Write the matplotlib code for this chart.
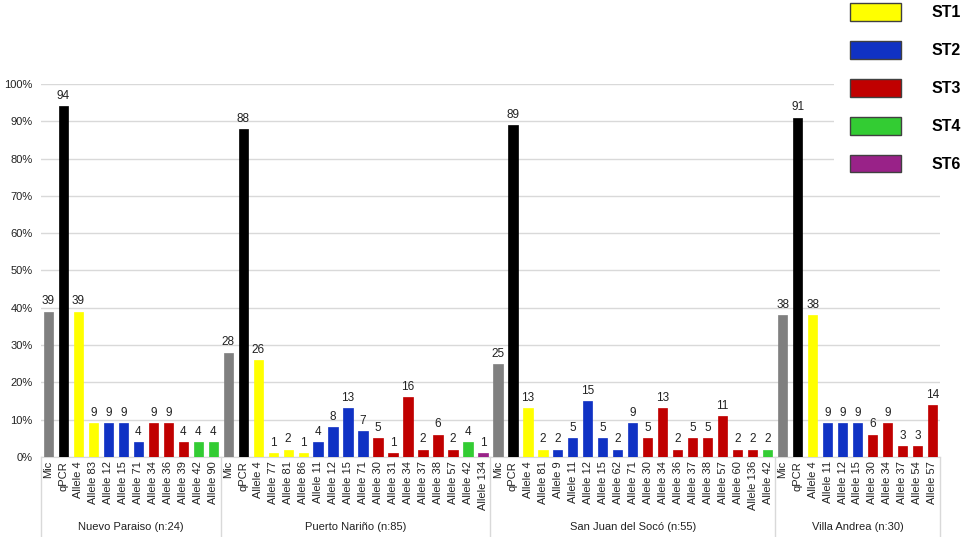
import numpy as np
import matplotlib
matplotlib.use('Agg')
from matplotlib import pyplot as plt
from matplotlib.patches import Patch
import matplotlib.transforms as mtransforms

plt.rcParams['font.family'] = ['Liberation Sans', 'DejaVu Sans']

# Data: one list of names / values / types per location
groups = ['Nuevo Paraiso (n:24)', 'Puerto Nariño (n:85)',
          'San Juan del Socó (n:55)', 'Villa Andrea (n:30)']

np_names = ['Mic', 'qPCR', 'Allele 4', 'Allele 83', 'Allele 12', 'Allele 15', 'Allele 71',
            'Allele 34', 'Allele 36', 'Allele 39', 'Allele 42', 'Allele 90']
np_values = [39, 94, 39, 9, 9, 9, 4, 9, 9, 4, 4, 4]
np_types = ['Mic', 'qPCR', 'ST1', 'ST1', 'ST2', 'ST2', 'ST2', 'ST3', 'ST3', 'ST3', 'ST4', 'ST4']

pn_names = ['Mic', 'qPCR', 'Allele 4', 'Allele 77', 'Allele 81', 'Allele 86', 'Allele 11',
            'Allele 12', 'Allele 15', 'Allele 71', 'Allele 30', 'Allele 31', 'Allele 34',
            'Allele 37', 'Allele 38', 'Allele 57', 'Allele 42', 'Allele 134']
pn_values = [28, 88, 26, 1, 2, 1, 4, 8, 13, 7, 5, 1, 16, 2, 6, 2, 4, 1]
pn_types = ['Mic', 'qPCR', 'ST1', 'ST1', 'ST1', 'ST1', 'ST2', 'ST2', 'ST2', 'ST2',
            'ST3', 'ST3', 'ST3', 'ST3', 'ST3', 'ST3', 'ST4', 'ST6']

sj_names = ['Mic', 'qPCR', 'Allele 4', 'Allele 81', 'Allele 9', 'Allele 11', 'Allele 12',
            'Allele 15', 'Allele 62', 'Allele 71', 'Allele 30', 'Allele 34', 'Allele 36',
            'Allele 37', 'Allele 38', 'Allele 57', 'Allele 60', 'Allele 136', 'Allele 42']
sj_values = [25, 89, 13, 2, 2, 5, 15, 5, 2, 9, 5, 13, 2, 5, 5, 11, 2, 2, 2]
sj_types = ['Mic', 'qPCR', 'ST1', 'ST1', 'ST2', 'ST2', 'ST2', 'ST2', 'ST2', 'ST2',
            'ST3', 'ST3', 'ST3', 'ST3', 'ST3', 'ST3', 'ST3', 'ST3', 'ST4']

va_names = ['Mic', 'qPCR', 'Allele 4', 'Allele 11', 'Allele 12', 'Allele 15', 'Allele 30',
            'Allele 34', 'Allele 37', 'Allele 54', 'Allele 57']
va_values = [38, 91, 38, 9, 9, 9, 6, 9, 3, 3, 14]
va_types = ['Mic', 'qPCR', 'ST1', 'ST2', 'ST2', 'ST2', 'ST3', 'ST3', 'ST3', 'ST3', 'ST3']

legend_types = ['ST1', 'ST2', 'ST3', 'ST4', 'ST6']

colors = {'Mic': '#808080', 'qPCR': '#000000', 'ST1': '#ffff00', 'ST2': '#1032c4',
          'ST3': '#c00000', 'ST4': '#33cc33', 'ST6': '#992288'}

all_names = np_names + pn_names + sj_names + va_names
all_values = np.array(np_values + pn_values + sj_values + va_values) / 100
all_types = np_types + pn_types + sj_types + va_types
sizes = [len(np_names), len(pn_names), len(sj_names), len(va_names)]

fig = plt.figure(figsize=(9.64, 5.37), dpi=100)
ax = fig.add_axes([0.0425, 0.149, 0.9325, 0.6946])

x = np.arange(len(all_names))
bars = ax.bar(x, all_values, width=0.62,
              color=[colors[t] for t in all_types],
              edgecolor=[colors[t] for t in all_types], linewidth=0.5, zorder=3)
ax.bar_label(bars, labels=[str(int(round(v * 100))) for v in all_values],
             padding=3, fontsize=8.5, color='#222222')

ax.set_xlim(-0.5, len(all_names) - 0.5)
ax.set_ylim(0, 1)
ax.set_yticks(np.arange(0, 1.01, 0.1))
ax.set_yticklabels([f'{int(round(v * 100))}%' for v in np.arange(0, 1.01, 0.1)],
                   fontsize=8, color='#222222')
ax.yaxis.grid(True, color='#d9d9d9', lw=1, zorder=0)
ax.set_xticks(x)
ax.set_xticklabels(all_names, rotation=90, fontsize=8, color='#222222')
ax.tick_params(axis='both', length=0)
ax.tick_params(axis='x', pad=3)
ax.tick_params(axis='y', pad=6)
for s in ['top', 'right', 'left']:
    ax.spines[s].set_visible(False)
ax.spines['bottom'].set_color('#d9d9d9')

# group separators and group labels under the tick labels
trans = mtransforms.blended_transform_factory(ax.transData, ax.transAxes)
edges = np.concatenate([[0], np.cumsum(sizes)]) - 0.5
for e in edges:
    ax.plot([e, e], [0, -0.22], color='#d9d9d9', lw=1, transform=trans, clip_on=False)
for g, a, b in zip(groups, edges[:-1], edges[1:]):
    ax.text((a + b) / 2, -0.188, g, transform=trans, ha='center', va='center',
            fontsize=8, color='#222222')

handles = [Patch(facecolor=colors[t], edgecolor='#404040', lw=1) for t in legend_types]
leg = fig.legend(handles, legend_types, loc='upper left',
                 bbox_to_anchor=(834 / 964, 1.0 + 13 / 537), borderaxespad=0,
                 prop={'weight': 'bold', 'size': 11.5}, handlelength=3.2,
                 handleheight=1.35, handletextpad=1.9, labelspacing=1.25,
                 frameon=True, fancybox=False, borderpad=1.0)
leg.get_frame().set_facecolor('white')
leg.get_frame().set_edgecolor('none')
leg.get_frame().set_alpha(1)

plt.savefig('out.png', dpi=100)
